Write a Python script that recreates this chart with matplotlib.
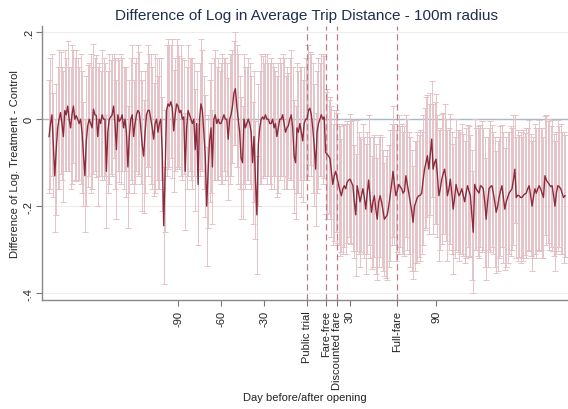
import numpy as np
import matplotlib
matplotlib.use("Agg")
import matplotlib.pyplot as plt

plt.rcParams['font.family'] = ['Liberation Sans', 'DejaVu Sans']

# days relative to opening
days = np.arange(-180, 181)

# point estimates (days -180 .. 180)
mean_diff = [
    -0.04, -0.01, 0.01, -0.06, -0.13, -0.07, -0.02, 0.0, 0.015, -0.01,
    -0.04, 0.02, 0.01, 0.03, 0.0, -0.02, 0.01, 0.03, 0.0, 0.008,
    0.0, -0.01, 0.0, -0.03, -0.08, -0.13, -0.05, -0.015, 0.0, -0.01,
    -0.02, 0.023, 0.01, 0.008, -0.04, 0.0, -0.01, 0.01, 0.0, 0.0,
    -0.12, -0.03, 0.0, 0.005, 0.01, 0.03, -0.01, -0.07, 0.01, -0.005,
    0.0, 0.01, -0.02, 0.0, -0.03, -0.11, -0.04, 0.0, 0.01, -0.04,
    -0.01, 0.01, 0.02, 0.015, -0.02, -0.06, -0.085, -0.03, 0.01, 0.02,
    0.02, 0.0, -0.02, -0.046, -0.01, 0.0, -0.03, -0.01, 0.0, -0.08,
    -0.245, -0.12, 0.02, 0.035, 0.03, 0.04, 0.025, -0.027, 0.01, 0.035,
    0.03, 0.015, 0.02, 0.0, 0.005, -0.12, -0.02, 0.02, 0.01, 0.0,
    -0.01, 0.0, -0.07, -0.01, -0.15, 0.0, 0.035, 0.02, -0.03, -0.085,
    -0.2, -0.12, -0.05, -0.02, -0.11, 0.0, 0.01, -0.01, 0.0, -0.01,
    -0.01, 0.0, 0.01, 0.0, 0.0, -0.046, 0.0, 0.01, 0.03, 0.06,
    0.07, 0.03, 0.0, -0.03, -0.09, -0.1, 0.0, -0.02, -0.01, 0.0,
    -0.01, -0.03, -0.1, -0.04, -0.14, -0.22, -0.06, -0.02, 0.0, 0.005,
    0.0, 0.01, 0.0, 0.0, -0.01, -0.01, 0.0, -0.02, -0.01, -0.04,
    -0.02, 0.0, 0.0, 0.01, -0.01, -0.03, -0.02, -0.015, 0.0, 0.01,
    -0.02, -0.085, -0.1, -0.02, -0.03, -0.01, -0.03, -0.05, -0.01, 0.0,
    0.0, 0.02, 0.025, 0.01, -0.02, -0.06, -0.115, -0.03, -0.01, 0.0,
    0.01, 0.0, 0.005, -0.077, -0.08, -0.085, -0.09, -0.12, -0.15, -0.13,
    -0.12, -0.135, -0.15, -0.165, -0.176, -0.16, -0.153, -0.16, -0.145, -0.14,
    -0.138, -0.145, -0.153, -0.19, -0.22, -0.153, -0.17, -0.19, -0.175, -0.16,
    -0.18, -0.207, -0.17, -0.14, -0.18, -0.214, -0.19, -0.176, -0.207, -0.23,
    -0.19, -0.176, -0.19, -0.21, -0.23, -0.225, -0.22, -0.2, -0.176, -0.15,
    -0.12, -0.15, -0.176, -0.165, -0.15, -0.155, -0.16, -0.17, -0.165, -0.13,
    -0.15, -0.17, -0.19, -0.21, -0.237, -0.2, -0.19, -0.18, -0.176, -0.175,
    -0.17, -0.14, -0.115, -0.1, -0.084, -0.115, -0.08, -0.046, -0.115, -0.1,
    -0.092, -0.13, -0.176, -0.16, -0.138, -0.125, -0.115, -0.14, -0.176, -0.16,
    -0.138, -0.17, -0.207, -0.18, -0.15, -0.165, -0.176, -0.17, -0.16, -0.175,
    -0.19, -0.17, -0.153, -0.165, -0.176, -0.22, -0.26, -0.15, -0.16, -0.165,
    -0.17, -0.153, -0.155, -0.16, -0.19, -0.23, -0.19, -0.16, -0.155, -0.153,
    -0.17, -0.19, -0.214, -0.2, -0.18, -0.165, -0.153, -0.18, -0.207, -0.19,
    -0.18, -0.17, -0.165, -0.16, -0.14, -0.115, -0.18, -0.175, -0.176, -0.18,
    -0.18, -0.175, -0.172, -0.17, -0.16, -0.153, -0.175, -0.2, -0.18, -0.16,
    -0.17, -0.16, -0.153, -0.16, -0.17, -0.18, -0.13, -0.14, -0.145, -0.15,
    -0.155, -0.153, -0.175, -0.2, -0.17, -0.153, -0.155, -0.16, -0.17, -0.18, -0.176,
]

# half width of the confidence interval for each day
ci_half = [
    0.13, 0.15, 0.14, 0.12, 0.13, 0.15, 0.14, 0.16, 0.14, 0.13,
    0.15, 0.14, 0.13, 0.15, 0.12, 0.14, 0.16, 0.13, 0.14, 0.15,
    0.14, 0.13, 0.15, 0.14, 0.12, 0.13, 0.15, 0.14, 0.13, 0.16,
    0.14, 0.15, 0.13, 0.14, 0.16, 0.13, 0.12, 0.15, 0.14, 0.13,
    0.13, 0.14, 0.15, 0.13, 0.14, 0.12, 0.15, 0.16, 0.13, 0.14,
    0.15, 0.13, 0.14, 0.12, 0.15, 0.14, 0.13, 0.14, 0.16, 0.13,
    0.14, 0.13, 0.15, 0.14, 0.13, 0.15, 0.13, 0.14, 0.12, 0.15,
    0.13, 0.15, 0.14, 0.13, 0.16, 0.14, 0.13, 0.15, 0.14, 0.13,
    0.135, 0.14, 0.15, 0.15, 0.14, 0.13, 0.16, 0.14, 0.13, 0.15,
    0.14, 0.13, 0.15, 0.14, 0.13, 0.135, 0.14, 0.15, 0.13, 0.14,
    0.15, 0.13, 0.14, 0.12, 0.14, 0.13, 0.15, 0.14, 0.13, 0.14,
    0.137, 0.13, 0.14, 0.15, 0.13, 0.14, 0.15, 0.13, 0.14, 0.12,
    0.14, 0.15, 0.13, 0.14, 0.13, 0.14, 0.15, 0.14, 0.13, 0.12,
    0.13, 0.14, 0.15, 0.13, 0.14, 0.13, 0.15, 0.14, 0.13, 0.14,
    0.14, 0.13, 0.14, 0.15, 0.135, 0.135, 0.14, 0.13, 0.15, 0.14,
    0.13, 0.14, 0.15, 0.13, 0.14, 0.15, 0.13, 0.14, 0.12, 0.14,
    0.15, 0.14, 0.13, 0.14, 0.15, 0.13, 0.14, 0.12, 0.14, 0.15,
    0.14, 0.13, 0.13, 0.15, 0.14, 0.13, 0.15, 0.14, 0.13, 0.14,
    0.14, 0.15, 0.13, 0.14, 0.15, 0.14, 0.13, 0.14, 0.15, 0.13,
    0.14, 0.15, 0.14, 0.14, 0.15, 0.13, 0.14, 0.15, 0.14, 0.15,
    0.14, 0.15, 0.14, 0.15, 0.13, 0.15, 0.14, 0.15, 0.14, 0.13,
    0.15, 0.14, 0.15, 0.13, 0.14, 0.15, 0.14, 0.15, 0.13, 0.15,
    0.14, 0.15, 0.14, 0.15, 0.14, 0.13, 0.15, 0.14, 0.15, 0.14,
    0.15, 0.14, 0.15, 0.14, 0.13, 0.14, 0.15, 0.14, 0.15, 0.14,
    0.15, 0.14, 0.15, 0.14, 0.16, 0.14, 0.15, 0.14, 0.15, 0.14,
    0.15, 0.14, 0.15, 0.14, 0.13, 0.15, 0.14, 0.15, 0.14, 0.15,
    0.14, 0.15, 0.14, 0.15, 0.14, 0.15, 0.14, 0.134, 0.15, 0.14,
    0.15, 0.14, 0.15, 0.14, 0.15, 0.14, 0.15, 0.14, 0.15, 0.14,
    0.15, 0.14, 0.15, 0.14, 0.15, 0.14, 0.15, 0.14, 0.15, 0.14,
    0.14, 0.15, 0.14, 0.15, 0.14, 0.15, 0.14, 0.15, 0.14, 0.15,
    0.15, 0.14, 0.15, 0.14, 0.15, 0.14, 0.15, 0.14, 0.15, 0.14,
    0.14, 0.15, 0.14, 0.15, 0.14, 0.15, 0.14, 0.15, 0.14, 0.15,
    0.15, 0.14, 0.15, 0.14, 0.15, 0.124, 0.14, 0.15, 0.14, 0.15,
    0.14, 0.15, 0.14, 0.15, 0.14, 0.15, 0.14, 0.15, 0.14, 0.15,
    0.15, 0.14, 0.15, 0.14, 0.15, 0.14, 0.137, 0.15, 0.14, 0.15,
    0.14, 0.15, 0.14, 0.15, 0.14, 0.15, 0.14, 0.15, 0.14, 0.15, 0.14,
]

# policy events (day) and their labels
event_days = [0, 13, 21, 63]
event_labels = ["Public trial", "Fare-free", "Discounted fare", "Full-fare"]

num_ticks = [-90, -60, -30, 30, 90]
y_ticks = [-0.4, -0.2, 0, 0.2]
y_labels = ["-.4", "-.2", "0", ".2"]

fig = plt.figure(figsize=(5.68, 4.10), dpi=100)
ax = fig.add_axes([0.074, 0.2666, 0.926, 0.6674])

ax.set_xlim(-184.9, 182.1)
ax.set_ylim(-0.415, 0.214)

# light grid + reference line at zero
for yv in y_ticks:
    ax.axhline(yv, color="#ededed", lw=0.8, zorder=0)
ax.axhline(0, color="#a9bac6", lw=1.0, zorder=1)

ax.errorbar(days, mean_diff, yerr=ci_half, fmt="none", ecolor="#e3c0c5",
            elinewidth=0.65, capsize=2.2, capthick=0.65, zorder=2)
ax.plot(days, mean_diff, color="#8c2b3b", lw=1.0, zorder=4)

for d in event_days:
    ax.axvline(d, color="#c07a88", lw=0.9, ls=(0, (5, 3)), zorder=3)

# ticks: numeric ones and the event labels together
xt = num_ticks + event_days
xl = [str(t) for t in num_ticks] + event_labels
ax.set_xticks(xt)
ax.set_xticklabels(xl, rotation=90, va="top", ha="center")
ax.set_yticks(y_ticks)
ax.set_yticklabels(y_labels, rotation=90, va="center")
ax.tick_params(axis="both", labelsize=8, colors="#222222", length=4,
               width=0.8, direction="out")
ax.tick_params(axis="both", color="#777777")
ax.tick_params(axis="y", pad=2)

for s in ["top", "right"]:
    ax.spines[s].set_visible(False)
for s in ["left", "bottom"]:
    ax.spines[s].set_color("#888888")
    ax.spines[s].set_linewidth(1.0)

ax.set_ylabel("Difference of Log. Treatment - Control", fontsize=8,
              color="#222222", labelpad=3)
fig.text(0.537, 0.03, "Day before/after opening", fontsize=8,
         color="#222222", ha="center", va="center")
fig.text(0.54, 0.962, "Difference of Log in Average Trip Distance - 100m radius",
         fontsize=11, color="#1f2d50", ha="center", va="center")

fig.savefig("out.png", dpi=100, facecolor="white")
